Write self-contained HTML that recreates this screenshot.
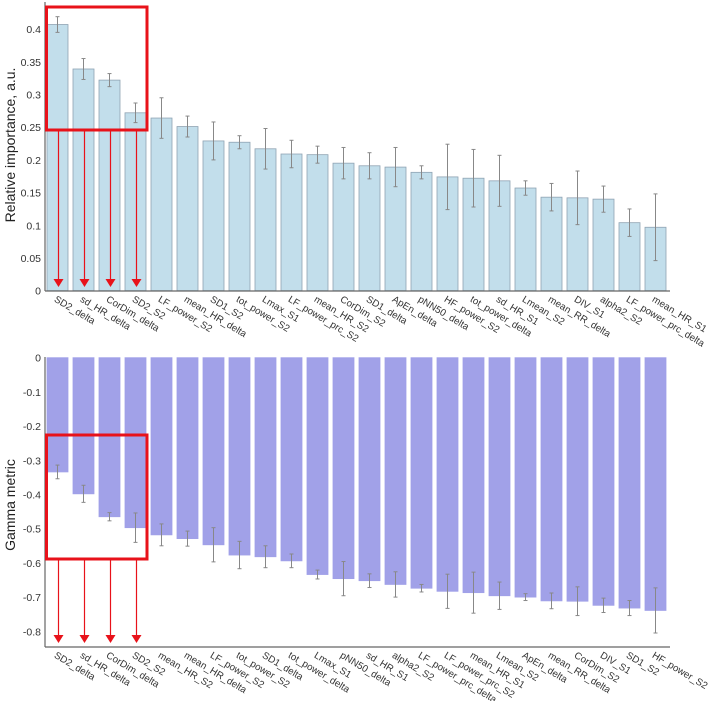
<!DOCTYPE html>
<html><head><meta charset="utf-8"><style>
body{margin:0;background:#fff;}
svg{display:block;font-family:"Liberation Sans",sans-serif;}
</style></head><body>
<svg id="c" width="708" height="701"></svg>
<script>
const topCats=["SD2_delta","sd_HR_delta","CorDim_delta","SD2_S2","LF_power_S2","mean_HR_delta","SD1_S2","tot_power_S2","Lmax_S1","LF_power_prc_S2","mean_HR_S2","CorDim_S2","SD1_delta","ApEn_delta","pNN50_delta","HF_power_S2","tot_power_delta","sd_HR_S1","Lmean_S2","mean_RR_delta","DIV_S1","alpha2_S2","LF_power_prc_delta","mean_HR_S1"];
const topVals=[0.407,0.339,0.322,0.272,0.264,0.251,0.229,0.227,0.217,0.209,0.208,0.195,0.191,0.189,0.181,0.174,0.172,0.168,0.157,0.143,0.142,0.140,0.104,0.097];
const topErr=[0.012,0.016,0.010,0.015,0.031,0.016,0.029,0.010,0.031,0.021,0.013,0.024,0.020,0.030,0.010,0.050,0.044,0.039,0.011,0.021,0.041,0.020,0.021,0.051];
const topTicks=[0,0.05,0.1,0.15,0.2,0.25,0.3,0.35,0.4];
const botCats=["SD2_delta","sd_HR_delta","CorDim_delta","SD2_S2","mean_HR_S2","mean_HR_delta","LF_power_S2","tot_power_S2","SD1_delta","tot_power_delta","Lmax_S1","pNN50_delta","sd_HR_S1","alpha2_S2","LF_power_prc_delta","LF_power_prc_S2","mean_HR_S1","Lmean_S2","ApEn_delta","mean_RR_delta","CorDim_S2","DIV_S1","SD1_S2","HF_power_S2"];
const botVals=[-0.334,-0.398,-0.465,-0.497,-0.518,-0.529,-0.547,-0.577,-0.582,-0.594,-0.634,-0.646,-0.652,-0.663,-0.674,-0.683,-0.687,-0.696,-0.700,-0.711,-0.712,-0.724,-0.732,-0.739];
const botErr=[0.020,0.025,0.012,0.043,0.032,0.022,0.050,0.040,0.032,0.020,0.013,0.050,0.020,0.037,0.011,0.050,0.060,0.040,0.010,0.023,0.042,0.021,0.022,0.066];
const botTicks=[0,-0.1,-0.2,-0.3,-0.4,-0.5,-0.6,-0.7,-0.8];

const svg=document.getElementById('c');
const NS="http://www.w3.org/2000/svg";
function mk(tag,attrs,parent){const e=document.createElementNS(NS,tag);for(const k in attrs)e.setAttribute(k,attrs[k]);(parent||svg).appendChild(e);return e;}
const X0=47,PITCH=26,BW=21;
const xb=i=>X0+i*PITCH;

function chart(name,cats,vals,errs,ticks,y,axisTop,axisY,fill,stroke,title,titleY){
  const g=mk('g',{});
  
  
  const y0=y(0);
  cats.forEach((c,i)=>{
    const v=vals[i],e=errs[i];
    const top=Math.min(y(v),y0),h=Math.abs(y(v)-y0);
    const r=mk('rect',{x:xb(i),y:top,width:BW,height:h,fill:fill,stroke:stroke,'stroke-width':0.8},g);
    
    
    const cx=xb(i)+BW/2;
    const eb=mk('g',{stroke:'#888','stroke-width':1},g);
    
    
    mk('line',{x1:cx,x2:cx,y1:y(v+e),y2:y(v-e)},eb);
    mk('line',{x1:cx-2,x2:cx+2,y1:y(v+e),y2:y(v+e)},eb);
    mk('line',{x1:cx-2,x2:cx+2,y1:y(v-e),y2:y(v-e)},eb);
    const tx=cx-4,ty=axisY+10;
    const t=mk('text',{x:tx,y:ty,'font-size':9.8,fill:'#333',transform:`rotate(31 ${tx} ${ty})`},g);
    t.textContent=c;
    
    
  });
  ticks.forEach(tv=>{
    const t=mk('text',{x:41,y:y(tv)+4,'font-size':10.5,fill:'#333','text-anchor':'end'},g);
    t.textContent=String(tv);
    
    
  });
  const ax=mk('line',{x1:45,x2:45,y1:axisTop,y2:axisY,stroke:'#666','stroke-width':1.2},g);
  
  
  const xa=mk('line',{x1:45,x2:670,y1:axisY,y2:axisY,stroke:'#666','stroke-width':1.2},g);
  
  
  const tt=mk('text',{x:15,y:titleY,'font-size':14,fill:'#222','text-anchor':'middle',transform:`rotate(-90 15 ${titleY})`},g);
  tt.textContent=title;
  
  
  return g;
}
const yTop=v=>290.7-v*654;
const yBot=v=>357.7-v*342;
chart('importance-chart',topCats,topVals,topErr,topTicks,yTop,2,291,'#c2deeb','#8fa3b3','Relative importance, a.u.',145);
chart('gamma-chart',botCats,botVals,botErr,botTicks,yBot,357,647,'#a1a1e8','#a1a1e8','Gamma metric',505);

function highlight(name,y1,y2,ay1,ay2){
  const g=mk('g',{});
  
  
  mk('rect',{x:46.5,y:y1,width:100.5,height:y2-y1,fill:'none',stroke:'#e8121a','stroke-width':3},g);
  for(let i=0;i<4;i++){
    const cx=xb(i)+BW/2+1;
    mk('line',{x1:cx,x2:cx,y1:ay1,y2:ay2-7,stroke:'#e8121a','stroke-width':1.2},g);
    mk('polygon',{points:`${cx-5},${ay2-8} ${cx+5},${ay2-8} ${cx},${ay2}`,fill:'#e8121a'},g);
  }
}
highlight('top-highlight-box',7,130,131,287);
highlight('bottom-highlight-box',435,559,560,643);
</script>
</body></html>
